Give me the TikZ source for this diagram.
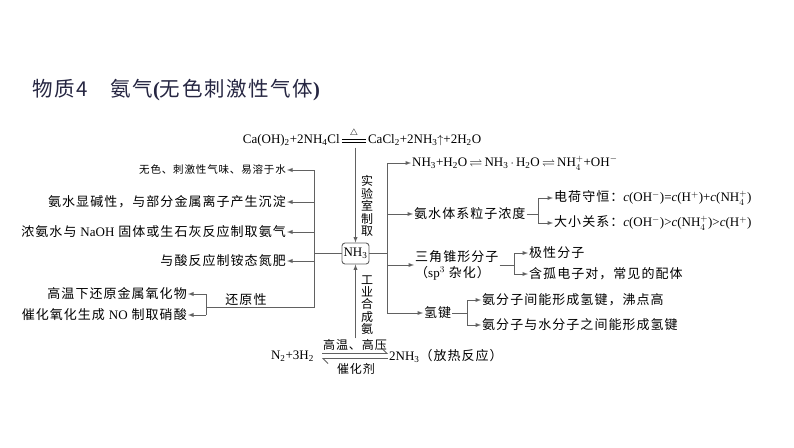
\documentclass[tikz,border=0pt]{standalone}
\usepackage{fontspec}
\setmainfont{Liberation Serif}
\newfontfamily\cjk[LetterSpace=8]{Noto Sans CJK SC}
\usepackage{amsmath}
\usepackage{amssymb}
\usetikzlibrary{arrows.meta}
\tikzset{>=latex}
\colorlet{lncol}{black!62}
\definecolor{titlecol}{RGB}{38,38,66}
\newcommand{\heateq}{\ensuremath{\mathrel{\mathop{\vcenter{\offinterlineskip\hbox{\rule{24pt}{0.6pt}}\vskip2.4pt\hbox{\rule{24pt}{0.6pt}}}}\limits^{\raisebox{1pt}{$\scriptstyle\triangle$}}}}}
\tikzset{txt/.style={inner sep=1pt,font=\cjk\fontsize{13}{16}\selectfont},
         eqn/.style={inner sep=1pt,font=\fontsize{13}{16}\selectfont},
         vtxt/.style={inner sep=0pt,align=center,font=\cjk\fontsize{12}{12.4}\selectfont},
         conn/.style={draw=lncol,line width=0.9pt},
         nbox/.style={draw=lncol,line width=0.9pt,rounded corners=3pt,minimum width=27pt,minimum height=21pt,inner sep=1pt,font=\fontsize{13}{16}\selectfont}}

\begin{document}
\begin{tikzpicture}[x=1pt,y=-1pt]
                    \useasboundingbox[fill=white] (0,0) rectangle (794,447);

                    \node[anchor=west,inner sep=0pt,text=titlecol,font=\cjk\fontsize{20.5}{24}\selectfont] (title) at (32,90) {物质4\hspace{1.1em}氨气{\rmfamily\bfseries (}无色刺激性气体{\rmfamily\bfseries )}};

                    \node[eqn] (labeq) at (362,137) {Ca(OH)\textsubscript{2}+2NH\textsubscript{4}Cl\,\heateq\,CaCl\textsubscript{2}+2NH\textsubscript{3}$\uparrow$+2H\textsubscript{2}O};
                    \node[nbox] (nh3) at (355.5,253.5) {NH\textsubscript{3}};
                    \node[vtxt] (labl) at (367,206) {实\\验\\室\\制\\取};
                    \node[vtxt] (indl) at (367,305) {工\\业\\合\\成\\氨};

                    \node[eqn,anchor=east] (n2h2) at (315,356) {N\textsubscript{2}+3H\textsubscript{2}};
                    \node[eqn,anchor=west] (prod) at (388,356) {2NH\textsubscript{3}{\cjk（放热反应）}};
                    \node[txt,font=\cjk\fontsize{12}{14}\selectfont] (cond) at (355,345) {高温、高压};
                    \node[txt,font=\cjk\fontsize{12}{14}\selectfont] (cat) at (356,369) {催化剂};

                    \node[txt,anchor=east,font=\cjk\fontsize{10.5}{14}\selectfont] (p1) at (287,170) {无色、刺激性气味、易溶于水};
                    \node[txt,anchor=east] (p2) at (287,202) {氨水显碱性，与部分金属离子产生沉淀};
                    \node[txt,anchor=east] (p3) at (287,232) {浓氨水与 {\rmfamily NaOH} 固体或生石灰反应制取氨气};
                    \node[txt,anchor=east] (p4) at (287,261) {与酸反应制铵态氮肥};
                    \node[txt] (redu) at (246,300) {还原性};
                    \node[txt,anchor=east] (r1) at (188,294) {高温下还原金属氧化物};
                    \node[txt,anchor=east] (r2) at (188,315) {催化氧化生成 {\rmfamily NO} 制取硝酸};

                    \node[eqn,anchor=west] (q1) at (411,163) {NH\textsubscript{3}+H\textsubscript{2}O\,$\rightleftharpoons$\,NH\textsubscript{3}\,$\cdot$\,H\textsubscript{2}O\,$\rightleftharpoons$\,NH$_4^+$+OH$^-$};
                    \node[txt,anchor=west] (q2) at (413,214) {氨水体系粒子浓度};
                    \node[txt,anchor=west,align=left] (q3) at (414,265) {三角锥形分子\\（{\rmfamily sp$^3$} 杂化）};
                    \node[txt,anchor=west] (q4) at (423,313) {氢键};

                    \node[eqn,anchor=west] (s1) at (553,198) {{\cjk 电荷守恒：}\textit{c}(OH$^-$)=\textit{c}(H$^+$)+\textit{c}(NH$_4^+$)};
                    \node[eqn,anchor=west] (s2) at (553,223) {{\cjk 大小关系：}\textit{c}(OH$^-$)>\textit{c}(NH$_4^+$)>\textit{c}(H$^+$)};
                    \node[txt,anchor=west] (t1) at (528,253) {极性分子};
                    \node[txt,anchor=west] (t2) at (528,274) {含孤电子对，常见的配体};
                    \node[txt,anchor=west] (u1) at (481,300) {氨分子间能形成氢键，沸点高};
                    \node[txt,anchor=west] (u2) at (481,325) {氨分子与水分子之间能形成氢键};

                    \coordinate (lj) at (314,253.5);
                    \coordinate (lb) at (314,307);
                    \coordinate (rb) at (206,307);
                    \coordinate (rj) at (387,253.5);
                    \coordinate (b2) at (538,214);
                    \coordinate (b3) at (514,265);
                    \coordinate (b4) at (467,313);

                    \draw[conn,->] (labeq.south -| nh3) -- (nh3.north);
                    \draw[conn,->] (cond.north -| nh3) -- (nh3.south);
                    \draw[conn,-{Straight Barb[left,length=5pt]}] ([xshift=7pt,yshift=2.5pt]n2h2.east) -- ([yshift=2.5pt]prod.west);
                    \draw[conn,-{Straight Barb[left,length=5pt]}] ([yshift=-2.5pt]prod.west) -- ([xshift=7pt,yshift=-2.5pt]n2h2.east);

                    \draw[conn] (nh3.west) -- (lj);
                    \draw[conn] (p1.east -| lj) -- (lb) -- (rb);
                    \draw[conn,->] (p1.east -| lj) -- (p1.east);
                    \draw[conn,->] (p2.east -| lj) -- (p2.east);
                    \draw[conn,->] (p3.east -| lj) -- (p3.east);
                    \draw[conn,->] (p4.east -| lj) -- (p4.east);
                    \draw[conn] (r1.east -| rb) -- (r2.east -| rb);
                    \draw[conn,->] (r1.east -| rb) -- (r1.east);
                    \draw[conn,->] (r2.east -| rb) -- (r2.east);

                    \draw[conn] (nh3.east) -- (rj);
                    \draw[conn] (q1.west -| rj) -- (q4.west -| rj);
                    \draw[conn,->] (q1.west -| rj) -- (q1.west);
                    \draw[conn,->] (q2.west -| rj) -- (q2.west);
                    \draw[conn,->] (q3.west -| rj) -- (q3.west);
                    \draw[conn,->] (q4.west -| rj) -- (q4.west);

                    \draw[conn] (q2.east) -- (b2);
                    \draw[conn] (s1.west -| b2) -- (s2.west -| b2);
                    \draw[conn,->] (s1.west -| b2) -- (s1.west);
                    \draw[conn,->] (s2.west -| b2) -- (s2.west);
                    \draw[conn] (q3.east) -- (b3);
                    \draw[conn] (t1.west -| b3) -- (t2.west -| b3);
                    \draw[conn,->] (t1.west -| b3) -- (t1.west);
                    \draw[conn,->] (t2.west -| b3) -- (t2.west);
                    \draw[conn] (q4.east) -- (b4);
                    \draw[conn] (u1.west -| b4) -- (u2.west -| b4);
                    \draw[conn,->] (u1.west -| b4) -- (u1.west);
                    \draw[conn,->] (u2.west -| b4) -- (u2.west);
                \end{tikzpicture}
\end{document}
